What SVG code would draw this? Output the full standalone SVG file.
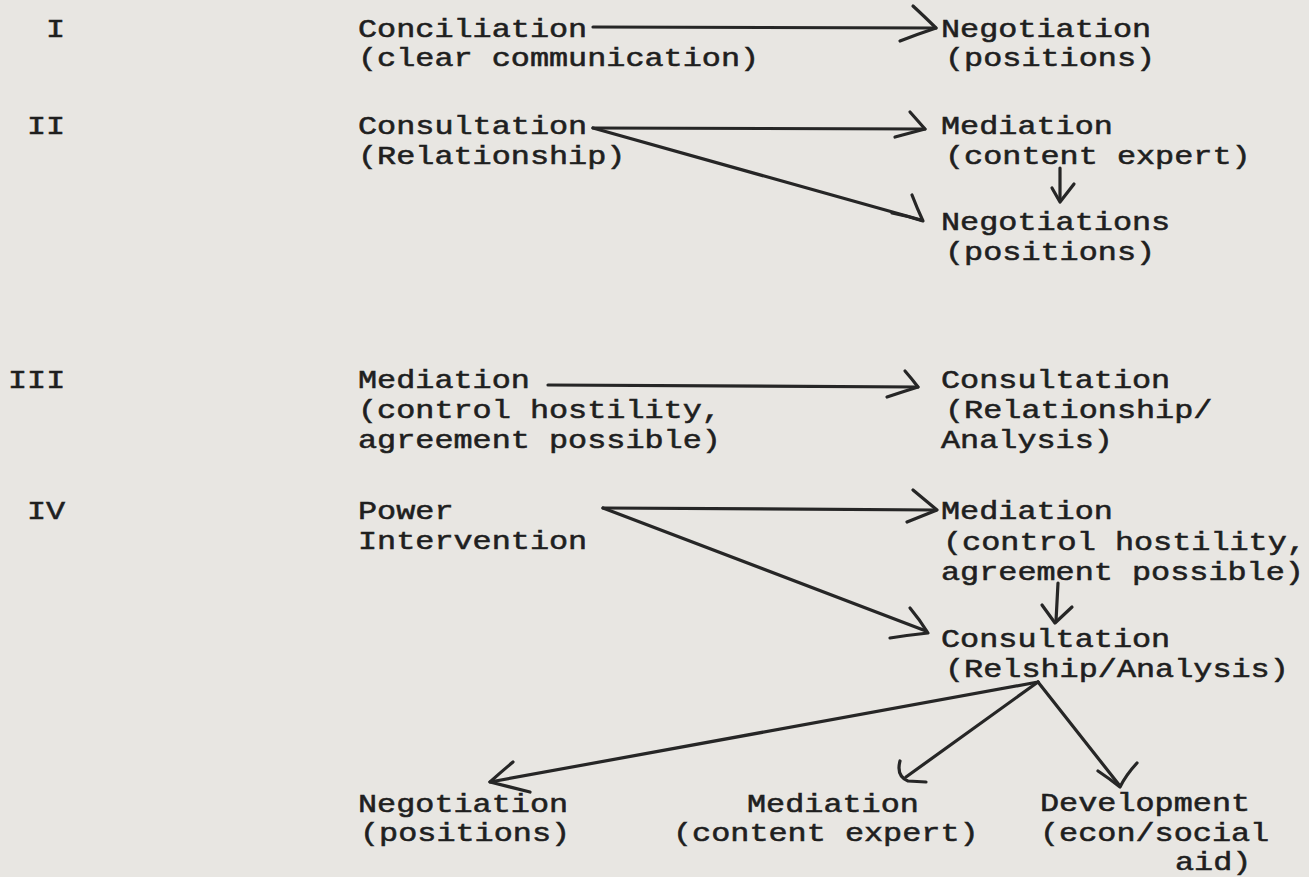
<svg xmlns="http://www.w3.org/2000/svg" width="1309" height="877" viewBox="0 0 1309 877">
<style>
.t{font-family:"Liberation Mono","Courier New",monospace;font-size:26px;fill:#1f1f1f;stroke:#1f1f1f;stroke-width:0.55px}
.c{fill:none;stroke:#262626;stroke-width:3.2;stroke-linecap:round;stroke-linejoin:round}
</style>
<rect width="1309" height="877" fill="#e8e6e2"/>
<g id="numerals">
<text class="t" x="46" y="37" textLength="19.1" lengthAdjust="spacingAndGlyphs">I</text>
<text class="t" x="27" y="134" textLength="38.2" lengthAdjust="spacingAndGlyphs">II</text>
<text class="t" x="8" y="388" textLength="57.3" lengthAdjust="spacingAndGlyphs">III</text>
<text class="t" x="27" y="519" textLength="38.2" lengthAdjust="spacingAndGlyphs">IV</text>
</g>
<g id="conciliation-1">
<text class="t" x="358" y="37" textLength="229.2" lengthAdjust="spacingAndGlyphs">Conciliation</text>
<text class="t" x="358" y="66" textLength="401.1" lengthAdjust="spacingAndGlyphs">(clear communication)</text>
</g>
<g id="negotiation-1">
<text class="t" x="941" y="37" textLength="210.1" lengthAdjust="spacingAndGlyphs">Negotiation</text>
<text class="t" x="945" y="66" textLength="210.1" lengthAdjust="spacingAndGlyphs">(positions)</text>
</g>
<g id="consultation-2">
<text class="t" x="358" y="134" textLength="229.2" lengthAdjust="spacingAndGlyphs">Consultation</text>
<text class="t" x="358" y="164" textLength="267.4" lengthAdjust="spacingAndGlyphs">(Relationship)</text>
</g>
<g id="mediation-2">
<text class="t" x="941" y="134" textLength="171.9" lengthAdjust="spacingAndGlyphs">Mediation</text>
<text class="t" x="945" y="164" textLength="305.6" lengthAdjust="spacingAndGlyphs">(content expert)</text>
</g>
<g id="negotiations-2">
<text class="t" x="941" y="230" textLength="229.2" lengthAdjust="spacingAndGlyphs">Negotiations</text>
<text class="t" x="945" y="260" textLength="210.1" lengthAdjust="spacingAndGlyphs">(positions)</text>
</g>
<g id="mediation-3">
<text class="t" x="358" y="388" textLength="171.9" lengthAdjust="spacingAndGlyphs">Mediation</text>
<text class="t" x="358" y="418" textLength="362.9" lengthAdjust="spacingAndGlyphs">(control hostility,</text>
<text class="t" x="358" y="448" textLength="362.9" lengthAdjust="spacingAndGlyphs">agreement possible)</text>
</g>
<g id="consultation-3">
<text class="t" x="941" y="388" textLength="229.2" lengthAdjust="spacingAndGlyphs">Consultation</text>
<text class="t" x="945" y="418" textLength="267.4" lengthAdjust="spacingAndGlyphs">(Relationship/</text>
<text class="t" x="941" y="448" textLength="171.9" lengthAdjust="spacingAndGlyphs">Analysis)</text>
</g>
<g id="power-4">
<text class="t" x="358" y="519" textLength="95.5" lengthAdjust="spacingAndGlyphs">Power</text>
<text class="t" x="358" y="549" textLength="229.2" lengthAdjust="spacingAndGlyphs">Intervention</text>
</g>
<g id="mediation-4">
<text class="t" x="941" y="519" textLength="171.9" lengthAdjust="spacingAndGlyphs">Mediation</text>
<text class="t" x="943" y="550" textLength="362.9" lengthAdjust="spacingAndGlyphs">(control hostility,</text>
<text class="t" x="941" y="580" textLength="362.9" lengthAdjust="spacingAndGlyphs">agreement possible)</text>
</g>
<g id="consultation-4">
<text class="t" x="941" y="647" textLength="229.2" lengthAdjust="spacingAndGlyphs">Consultation</text>
<text class="t" x="945" y="677" textLength="343.8" lengthAdjust="spacingAndGlyphs">(Relship/Analysis)</text>
</g>
<g id="negotiation-5">
<text class="t" x="358" y="812" textLength="210.1" lengthAdjust="spacingAndGlyphs">Negotiation</text>
<text class="t" x="360" y="841" textLength="210.1" lengthAdjust="spacingAndGlyphs">(positions)</text>
</g>
<g id="mediation-5">
<text class="t" x="747" y="812" textLength="171.9" lengthAdjust="spacingAndGlyphs">Mediation</text>
<text class="t" x="673" y="841" textLength="305.6" lengthAdjust="spacingAndGlyphs">(content expert)</text>
</g>
<g id="development-5">
<text class="t" x="1040" y="811" textLength="210.1" lengthAdjust="spacingAndGlyphs">Development</text>
<text class="t" x="1040" y="841" textLength="229.2" lengthAdjust="spacingAndGlyphs">(econ/social</text>
<text class="t" x="1175" y="870" textLength="76.4" lengthAdjust="spacingAndGlyphs">aid)</text>
</g>
<g id="connectors">
<path class="c" d="M593,27 L936,28"/>
<path class="c" d="M913,6 Q926,18 936,28 Q918,34 900,41"/>
<path class="c" d="M593,128 L925,129"/>
<path class="c" d="M910,112 Q918,121 925,129 Q910,133 895,137"/>
<path class="c" d="M593,128 L921,220"/>
<path class="c" d="M912,195 Q917,208 923,221 Q908,216 892,213"/>
<path class="c" d="M1060,168 L1060,200"/>
<path class="c" d="M1052,188 L1060,202 L1074,184"/>
<path class="c" d="M548,385 L918,387"/>
<path class="c" d="M905,371 Q912,379 918,387 Q902,392 887,397"/>
<path class="c" d="M603,508 L936,510"/>
<path class="c" d="M913,490 Q925,500 937,510 Q922,516 907,522"/>
<path class="c" d="M603,508 L926,631"/>
<path class="c" d="M910,608 Q920,620 928,633 Q909,635 890,638"/>
<path class="c" d="M1058,583 L1056,621"/>
<path class="c" d="M1042,605 L1055,623 L1072,607"/>
<path class="c" d="M1038,682 L490,782"/>
<path class="c" d="M513,762 Q501,772 490,782 Q510,787 530,792"/>
<path class="c" d="M1038,682 L906,777"/>
<path class="c" d="M900,761 Q896,776 908,781 L926,782"/>
<path class="c" d="M1038,682 L1120,786"/>
<path class="c" d="M1098,771 Q1110,779 1120,787 Q1126,775 1137,763"/>
</g>
</svg>
